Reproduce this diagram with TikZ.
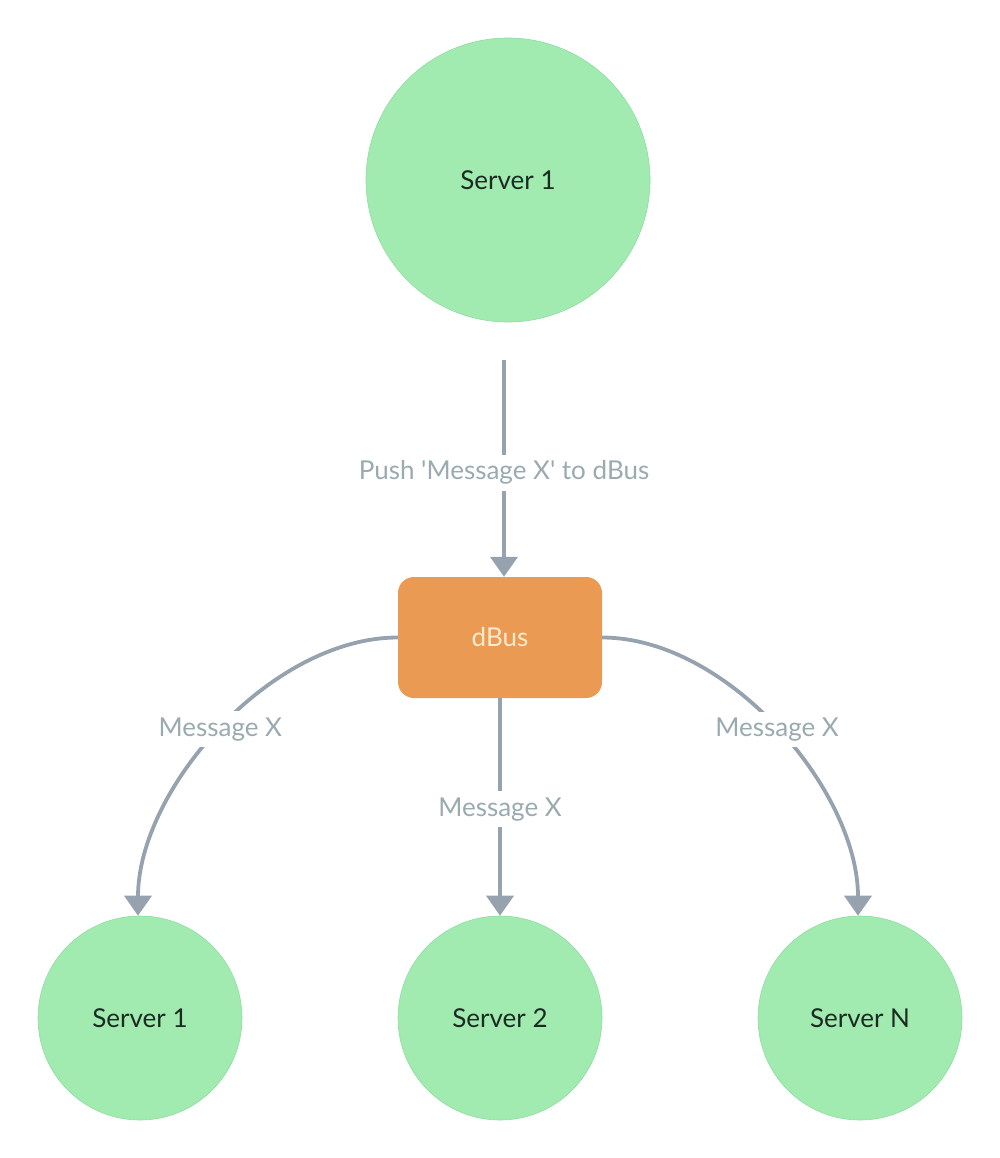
\documentclass[tikz,border=0pt]{standalone}
\usepackage{fontspec}
\setmainfont{Lato}
\usetikzlibrary{arrows.meta}
\definecolor{srvfill}{HTML}{A1EBB1}
\definecolor{srvline}{HTML}{8FDCA2}
\definecolor{busfill}{HTML}{EB9A53}
\definecolor{bustext}{HTML}{FDEBCF}
\definecolor{conn}{HTML}{96A3AF}
\definecolor{lbl}{HTML}{9AABB0}
\definecolor{srvtext}{HTML}{1C2B22}
\tikzset{
  server/.style={circle, fill=srvfill, draw=srvline, line width=0.6pt, inner sep=0pt, text=srvtext, font=\fontsize{26}{30}\selectfont},
  busbox/.style={rectangle, rounded corners=16pt, fill=busfill, text=bustext, minimum width=204pt, minimum height=121pt, font=\fontsize{26}{30}\selectfont},
  conn/.style={draw=conn, line width=3.8pt, -{Triangle[width=27pt,length=20pt]}},
  lab/.style={fill=white, text=lbl, inner sep=6pt, font=\fontsize{26}{30}\selectfont}
}
\begin{document}
\begin{tikzpicture}[x=1pt,y=-1pt]
\useasboundingbox (0,0) rectangle (1000,1158);
\node[server, minimum size=284pt] (top) at (508,180) {Server 1};
\node[busbox] (bus) at (500,637.5) {dBus};
\node[server, minimum size=204pt] (s1) at (140,1018) {Server 1};
\node[server, minimum size=204pt] (s2) at (500,1018) {Server 2};
\node[server, minimum size=204pt] (sn) at (860,1018) {Server N};
\coordinate (pushstart) at (504,360);
\draw[conn] (pushstart) -- (pushstart |- bus.north) node[lab, pos=0.52] {Push \textquotesingle Message X\textquotesingle{} to dBus};
\draw[conn] (bus.west) to[out=180,in=90,looseness=0.85] node[lab, pos=0.5] {Message X} ([xshift=-2pt]s1.north);
\draw[conn] (bus.east) to[out=0,in=90,looseness=0.85] node[lab, pos=0.5] {Message X} ([xshift=-2pt]sn.north);
\draw[conn] (bus.south) -- (s2.north) node[lab, pos=0.51] {Message X};
\end{tikzpicture}
\end{document}
